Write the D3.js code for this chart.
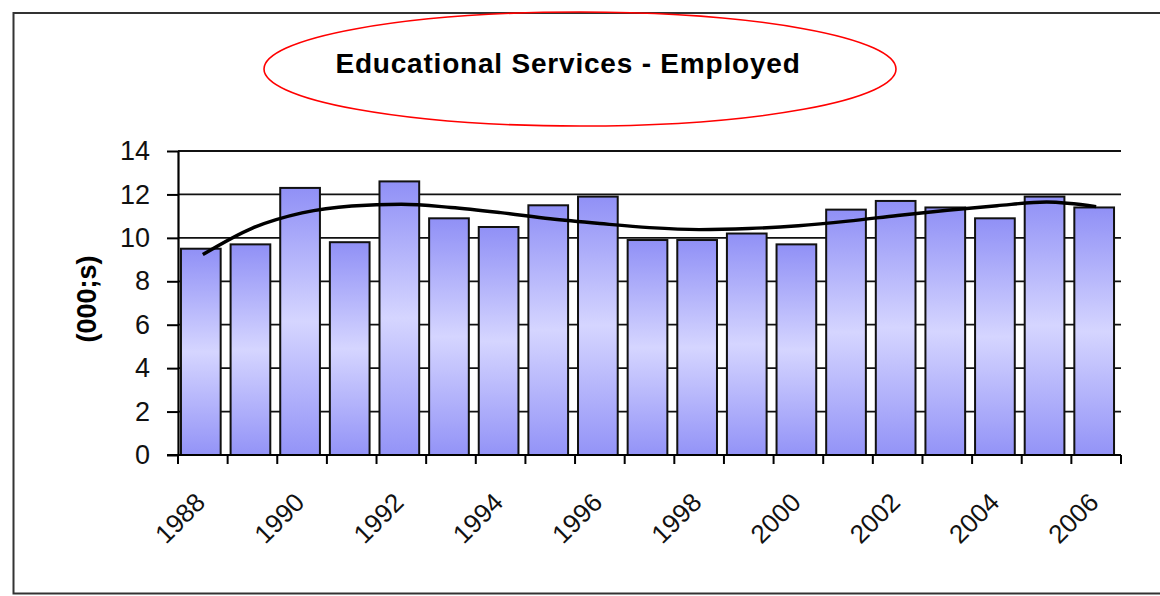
<!DOCTYPE html>
<html>
<head>
<meta charset="utf-8">
<script src="https://cdn.jsdelivr.net/npm/d3@7"></script>
<style>
  body { margin: 0; background: #fff; }
  svg { display: block; font-family: "Liberation Sans", Arial, sans-serif; }
</style>
</head>
<body>
<svg id="chart" width="1160" height="596"></svg>
<script>
// data
var years = ["1988","1989","1990","1991","1992","1993","1994","1995","1996","1997",
             "1998","1999","2000","2001","2002","2003","2004","2005","2006"];
var employed = [9.5, 9.7, 12.3, 9.8, 12.6, 10.9, 10.5, 11.5, 11.9, 9.9,
                9.9, 10.2, 9.7, 11.3, 11.7, 11.4, 10.9, 11.9, 11.4];
var trend = [9.23, 10.45, 11.15, 11.47, 11.55, 11.4, 11.16, 10.88, 10.66, 10.47,
             10.38, 10.43, 10.56, 10.77, 11.03, 11.27, 11.48, 11.65, 11.44];
var yTicks = [0, 2, 4, 6, 8, 10, 12, 14];
var xLabels = ["1988","1990","1992","1994","1996","1998","2000","2002","2004","2006"];

var svg = d3.select("#chart");

// outer frame (no right edge visible in the original)
svg.append("path")
  .attr("d", "M1162,13 H13.5 V593.5 H1162")
  .attr("fill", "none")
  .attr("stroke", "#333")
  .attr("stroke-width", 2);

var x = d3.scaleBand()
  .domain(years)
  .range([178, 1121])
  .paddingInner(0.2)
  .paddingOuter(0.1);

var y = d3.scaleLinear()
  .domain([0, 14])
  .range([455, 151]);

// bar gradient, light in the middle
var grad = svg.append("defs").append("linearGradient")
  .attr("id", "barFill")
  .attr("x1", 0).attr("y1", 0).attr("x2", 0).attr("y2", 1);
grad.append("stop").attr("offset", "0%").attr("stop-color", "#9090f6");
grad.append("stop").attr("offset", "50%").attr("stop-color", "#d5d5ff");
grad.append("stop").attr("offset", "100%").attr("stop-color", "#9393f7");

// gridlines
svg.append("g")
  .selectAll("line")
  .data(yTicks.filter(function(d) { return d > 0; }))
  .enter()
  .append("line")
  .attr("x1", 178)
  .attr("x2", 1121)
  .attr("y1", function(d) { return y(d); })
  .attr("y2", function(d) { return y(d); })
  .attr("stroke", "#111")
  .attr("stroke-width", 1.8);

// bars
svg.append("g")
  .selectAll("rect")
  .data(employed)
  .enter()
  .append("rect")
  .attr("x", function(d, i) { return x(years[i]) - 2; })
  .attr("y", function(d) { return y(d); })
  .attr("width", x.bandwidth())
  .attr("height", function(d) { return y(0) - y(d); })
  .attr("fill", "url(#barFill)")
  .attr("stroke", "#111")
  .attr("stroke-width", 2);

// trend line
var line = d3.line()
  .x(function(d, i) { return x(years[i]) + x.bandwidth() / 2; })
  .y(function(d) { return y(d); })
  .curve(d3.curveMonotoneX);

svg.append("path")
  .datum(trend)
  .attr("d", line)
  .attr("fill", "none")
  .attr("stroke", "#000")
  .attr("stroke-width", 3.4);

// y axis
var yAxis = svg.append("g")
  .attr("transform", "translate(178,0)")
  .call(d3.axisLeft(y).tickValues(yTicks).tickSize(11).tickPadding(17).tickSizeOuter(0));
yAxis.select(".domain").attr("stroke", "#000").attr("stroke-width", 2.2);
yAxis.selectAll(".tick line").attr("stroke", "#000").attr("stroke-width", 2);
yAxis.selectAll(".tick text")
  .attr("font-size", 27)
  .attr("fill", "#111")
  .attr("font-family", "Liberation Sans, Arial, sans-serif");

// x axis line and ticks at category boundaries
var bounds = years.map(function(d) { return x(d) - x.step() * x.paddingInner() / 2; });
bounds.push(x(years[years.length - 1]) + x.bandwidth() + x.step() * x.paddingInner() / 2);

svg.append("line")
  .attr("x1", 167).attr("x2", 1121)
  .attr("y1", y(0)).attr("y2", y(0))
  .attr("stroke", "#000").attr("stroke-width", 2.2);

svg.append("g")
  .selectAll("line")
  .data(bounds)
  .enter()
  .append("line")
  .attr("x1", function(d) { return d; })
  .attr("x2", function(d) { return d; })
  .attr("y1", y(0))
  .attr("y2", y(0) + 9)
  .attr("stroke", "#000")
  .attr("stroke-width", 2);

// rotated year labels, every second year
svg.append("g")
  .selectAll("text")
  .data(xLabels)
  .enter()
  .append("text")
  .attr("transform", function(d) {
    return "translate(" + (x(d) + x.bandwidth() / 2 + 4) + "," + 504 + ") rotate(-45)";
  })
  .attr("text-anchor", "end")
  .attr("font-size", 26)
  .attr("fill", "#111")
  .text(function(d) { return d; });

// y axis title
svg.append("text")
  .attr("transform", "translate(96,299) rotate(-90)")
  .attr("text-anchor", "middle")
  .attr("font-size", 27)
  .attr("font-weight", "bold")
  .attr("fill", "#000")
  .text("(000;s)");

// title with red ellipse
svg.append("ellipse")
  .attr("cx", 580).attr("cy", 69)
  .attr("rx", 316).attr("ry", 57)
  .attr("fill", "none")
  .attr("stroke", "#f00")
  .attr("stroke-width", 1.6);

svg.append("text")
  .attr("x", 568)
  .attr("y", 73)
  .attr("text-anchor", "middle")
  .attr("font-size", 28)
  .attr("font-weight", "bold")
  .attr("letter-spacing", 0.8)
  .attr("fill", "#000")
  .text("Educational Services - Employed");
</script>
</body>
</html>
